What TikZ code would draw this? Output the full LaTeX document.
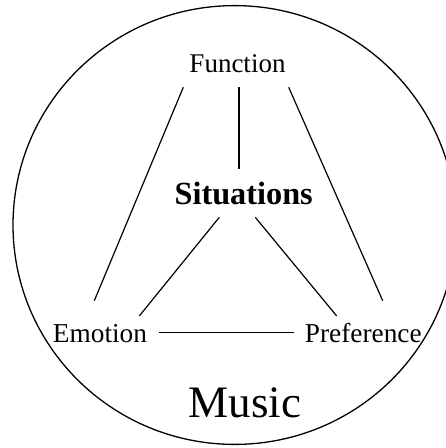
\documentclass[tikz,border=0pt]{standalone}
\usepackage{fontspec}
\setmainfont{Liberation Serif}
\begin{document}
\begin{tikzpicture}[x=1pt,y=-1pt,
  lbl/.style={anchor=base,inner sep=0pt,font=\fontsize{27.3}{30}\selectfont},
  conn/.style={line width=1.2pt,line cap=butt}]
\useasboundingbox (0,0) rectangle (446,448);
\draw[line width=1.3pt] (234.6,225) ellipse [x radius=221.6, y radius=219.4];
\node[lbl,font=\fontsize{27}{30}\selectfont] (func) at (237.5,72.7) {Function};
\node[lbl,font=\bfseries\fontsize{32.3}{36}\selectfont] (sit) at (243.7,204) {Situations};
\node[lbl] (emo) at (100,342.7) {Emotion};
\node[lbl] (pref) at (363.3,342.7) {Preference};
\node[lbl,font=\fontsize{45}{50}\selectfont] (mus) at (245,417.3) {Music};
\coordinate (fl) at (183.3,87.3);
\coordinate (el) at (94.3,300.7);
\coordinate (fm) at (239,87.3);
\coordinate (sm) at (239,169.3);
\coordinate (fr) at (288.7,87.3);
\coordinate (pr) at (382.7,300.7);
\coordinate (sl) at (219.3,217.3);
\coordinate (er) at (139.3,316);
\coordinate (sr) at (255.3,217.3);
\coordinate (pl) at (336.7,316);
\coordinate (eh) at (159.3,332.7);
\coordinate (ph) at (294,332.7);
\draw[conn] (fl) -- (el);
\draw[conn] (fm) -- (sm);
\draw[conn] (fr) -- (pr);
\draw[conn] (sl) -- (er);
\draw[conn] (sr) -- (pl);
\draw[conn] (eh) -- (ph);
\end{tikzpicture}
\end{document}
